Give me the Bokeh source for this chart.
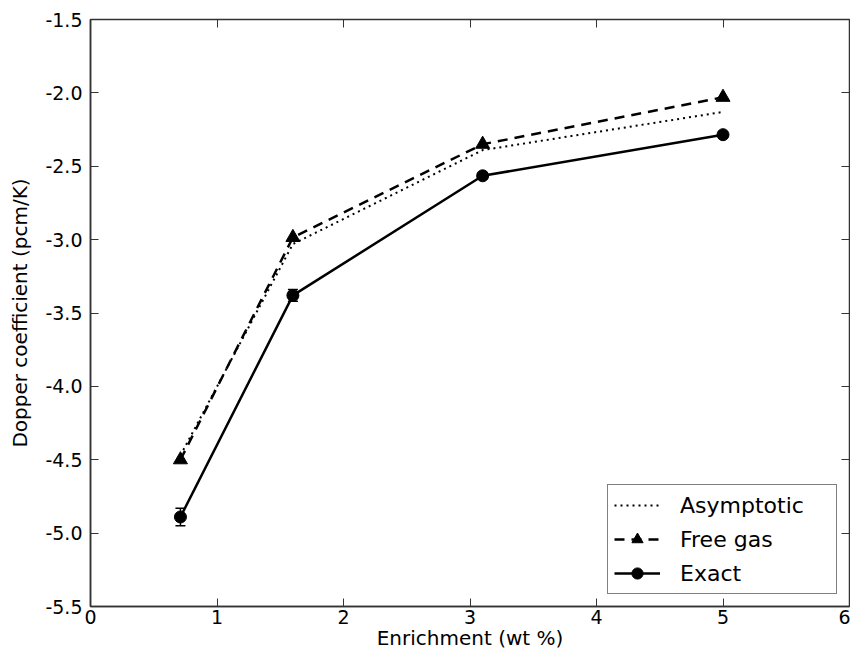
from bokeh.plotting import figure
from bokeh.models import (Range1d, FixedTicker, LinearAxis, Whisker, ColumnDataSource,
                          Legend, LegendItem, CustomJSTickFormatter)
from bokeh.embed import file_html
from bokeh.resources import INLINE

# ---- data ----
enrichment = [0.711, 1.6, 3.1, 5.0]
asymptotic = [-4.47, -3.03, -2.39, -2.13]
free_gas = [-4.50, -2.985, -2.35, -2.03]
exact = [-4.89, -3.38, -2.565, -2.285]
exact_err = [0.06, 0.04, 0.02, 0.02]

x_ticks = [0, 1, 2, 3, 4, 5, 6]
x_tick_labels = ["0", "1", "2", "3", "4", "5", "6"]
y_ticks = [-5.5, -5.0, -4.5, -4.0, -3.5, -3.0, -2.5, -2.0, -1.5]
y_tick_labels = ["-5.5", "-5.0", "-4.5", "-4.0", "-3.5", "-3.0", "-2.5", "-2.0", "-1.5"]

FONT = "DejaVu Sans"
AXC = "#333333"

p = figure(width=850, height=652, output_backend="svg", toolbar_location=None,
           x_range=Range1d(0, 6), y_range=Range1d(-5.5, -1.5),
           min_border_left=90, min_border_right=1, min_border_top=19, min_border_bottom=45)
p.background_fill_color = "white"
p.border_fill_color = "white"
p.outline_line_color = AXC
p.outline_line_width = 1.5
p.grid.visible = False

p.xaxis.ticker = FixedTicker(ticks=x_ticks)
p.yaxis.ticker = FixedTicker(ticks=y_ticks)
p.xaxis.major_label_overrides = {t: l for t, l in zip(x_ticks, x_tick_labels)}
p.yaxis.major_label_overrides = {t: l for t, l in zip(y_ticks, y_tick_labels)}
p.xaxis.axis_label = "Enrichment (wt %)"
p.yaxis.axis_label = "Dopper coefficient (pcm/K)"
for ax in (p.xaxis, p.yaxis):
    ax.axis_line_color = AXC
    ax.axis_line_width = 1.5
    ax.major_tick_in = 8
    ax.major_tick_out = 0
    ax.major_tick_line_color = AXC
    ax.minor_tick_line_color = None
    ax.major_label_text_font = FONT
    ax.major_label_text_font_size = "19px"
    ax.major_label_text_color = "black"
    ax.axis_label_text_font = FONT
    ax.axis_label_text_font_size = "20px"
    ax.axis_label_text_font_style = "normal"
    ax.axis_label_text_color = "black"
p.xaxis.major_label_standoff = 3
p.xaxis.axis_label_standoff = -1
p.yaxis.major_label_standoff = 8
p.yaxis.axis_label_standoff = 10

blank = CustomJSTickFormatter(code="return '';")
for loc, tk in (("above", x_ticks), ("right", y_ticks)):
    ax = LinearAxis(ticker=FixedTicker(ticks=tk), formatter=blank, axis_line_color=None,
                    major_tick_in=8, major_tick_out=0, major_tick_line_color=AXC,
                    minor_tick_line_color=None, major_label_standoff=0)
    p.add_layout(ax, loc)

# ---- series ----
r_asym = p.line(enrichment, asymptotic, line_color="black", line_width=2, line_dash="2 4")
r_free_l = p.line(enrichment, free_gas, line_color="black", line_width=2.5, line_dash="10 7")
r_free_m = p.scatter(enrichment, free_gas, marker="triangle", size=14, color="black")
r_ex_l = p.line(enrichment, exact, line_color="black", line_width=2.5)
r_ex_m = p.scatter(enrichment, exact, marker="circle", size=12, color="black")

src = ColumnDataSource(dict(x=enrichment,
                            lo=[v - e for v, e in zip(exact, exact_err)],
                            hi=[v + e for v, e in zip(exact, exact_err)]))
wh = Whisker(source=src, base="x", lower="lo", upper="hi", line_color="black", line_width=1.5)
wh.upper_head.size = 10
wh.lower_head.size = 10
wh.upper_head.line_color = "black"
wh.lower_head.line_color = "black"
wh.upper_head.line_width = 1.5
wh.lower_head.line_width = 1.5
p.add_layout(wh)

legend = Legend(items=[
    LegendItem(label="Asymptotic", renderers=[r_asym]),
    LegendItem(label="Free gas", renderers=[r_free_l, r_free_m]),
    LegendItem(label="Exact", renderers=[r_ex_l, r_ex_m]),
], location="bottom_right")
legend.label_text_font = FONT
legend.label_text_font_size = "22px"
legend.label_text_color = "black"
legend.glyph_width = 46
legend.glyph_height = 28
legend.label_standoff = 20
legend.label_height = 28
legend.spacing = 6
legend.padding = 6
legend.margin = 12
legend.border_line_color = "black"
legend.border_line_width = 1.5
legend.background_fill_alpha = 1
legend.label_width = 150
p.add_layout(legend)

open("out.html", "w").write(file_html(p, INLINE))
